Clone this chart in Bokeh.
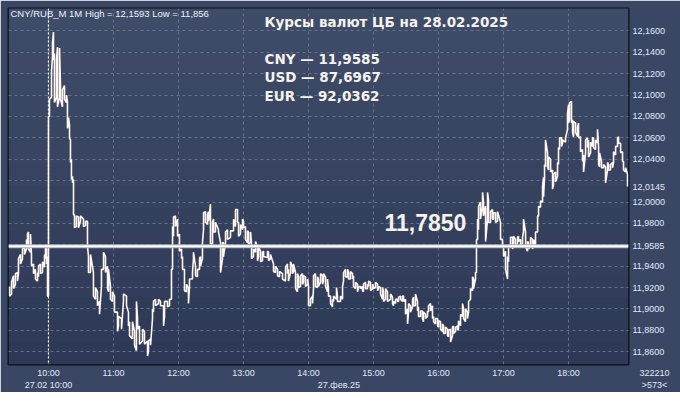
from bokeh.plotting import figure
from bokeh.models import Range1d, FixedTicker, Span, Label, BoxAnnotation
from bokeh.embed import file_html
from bokeh.resources import INLINE

# ---- data: minute bars of CNY/RUB on 27.02.2025 (minutes after 09:00) ----
bar_minute = [
    24.0, 25.9, 27.7, 29.5, 31.4, 32.3, 34.2, 36.0, 37.9, 39.7,
    40.6, 41.5, 43.4, 44.3, 46.2, 48.0, 49.9, 50.8, 52.6, 54.5,
    56.3, 57.2, 58.2, 59.1, 60.0, 60.9, 62.8, 63.7, 64.6, 65.5,
    67.4, 68.3, 70.2, 71.1, 72.9, 74.8, 76.6, 77.5, 78.5, 79.4,
    80.3, 81.2, 82.2, 83.1, 84.0, 85.8, 87.7, 89.5, 92.3, 94.2,
    96.0, 96.9, 98.8, 101.5, 103.4, 105.2, 107.1, 108.9, 110.8, 112.6,
    114.5, 115.4, 117.2, 119.1, 120.9, 123.7, 124.6, 127.4, 129.2, 132.0,
    133.8, 134.8, 137.5, 139.4, 141.2, 142.2, 144.0, 146.8, 148.6, 151.4,
    152.3, 154.2, 156.0, 156.9, 158.8, 161.5, 163.4, 166.2, 167.1, 169.8,
    171.7, 173.5, 174.5, 175.4, 177.2, 179.1, 180.9, 182.8, 183.7, 185.5,
    187.4, 189.2, 190.1, 192.9, 193.8, 195.7, 197.5, 199.4, 200.3, 202.1,
    203.1, 204.9, 206.8, 207.7, 209.5, 211.4, 212.3, 214.1, 216.9, 218.8,
    220.6, 221.5, 223.4, 225.2, 228.0, 230.8, 232.6, 234.5, 235.4, 237.2,
    239.1, 240.0, 241.8, 243.7, 244.6, 246.5, 247.4, 249.2, 251.1, 252.9,
    253.8, 255.7, 257.5, 258.5, 262.1, 263.1, 264.9, 267.7, 269.5, 271.4,
    273.2, 276.0, 278.8, 280.6, 281.5, 283.4, 285.2, 286.1, 288.0, 289.8,
    290.8, 292.6, 294.4, 295.4, 297.2, 299.1, 300.0, 301.8, 303.7, 304.6,
    306.4, 308.3, 309.2, 311.1, 312.9, 313.8, 315.7, 317.5, 318.4, 320.3,
    322.1, 323.1, 325.8, 326.7, 329.5, 331.4, 332.3, 334.1, 336.0, 336.9,
    338.7, 340.6, 341.5, 343.4, 345.2, 346.1, 348.0, 349.8, 350.7, 352.6,
    354.4, 355.4, 357.2, 359.1, 360.0, 361.8, 363.7, 364.6, 366.4, 368.3,
    369.2, 371.1, 372.9, 375.7, 377.5, 378.4, 380.3, 382.1, 383.1, 384.9,
    386.7, 387.7, 389.5, 391.4, 392.3, 394.1, 396.0, 396.9, 398.7, 400.6,
    401.5, 403.4, 405.2, 406.1, 408.0, 409.8, 410.7, 412.6, 414.4, 415.4,
    417.2, 419.1, 420.0, 421.8, 423.7, 424.6, 426.4, 428.3, 429.2, 431.1,
    432.9, 433.8, 435.7, 437.5, 438.4, 440.3, 442.1, 443.1, 444.9, 446.7,
    447.7, 449.5, 451.4, 452.3, 454.1, 455.0, 456.0, 456.9, 458.7, 460.6,
    461.5, 463.4, 465.2, 466.1, 468.0, 469.8, 470.7, 472.6, 474.4, 477.2,
    479.0, 480.0, 481.8, 483.7, 484.6, 486.4, 488.3, 489.2, 491.0, 492.9,
    493.8, 495.7, 497.5, 498.4, 500.3, 502.1, 503.0, 504.9, 506.7, 507.7,
    509.5, 511.4, 512.3, 514.1, 516.0, 516.9, 517.8, 518.7, 520.6, 521.5,
    523.4, 525.2, 526.1, 528.0, 529.8, 530.7, 531.7, 533.5, 534.4, 537.2,
    539.0, 540.0, 540.9, 542.7, 543.7, 544.6, 546.5, 548.3, 549.2, 551.0,
    552.9, 553.8, 555.7, 557.5, 558.4, 560.3, 562.1, 563.0, 564.9, 566.7,
    567.7, 568.6, 570.4, 572.3, 574.1, 576.0, 576.9, 578.7, 580.6, 581.5,
    583.4, 585.2, 586.1, 588.0, 589.8, 590.7, 592.6, 594.4,
]
bar_high = [
    11.921, 11.925, 11.931, 11.933, 11.934, 11.947, 11.951, 11.956, 11.959, 11.965,
    11.970, 11.972, 11.970, 11.951, 11.942, 11.937, 11.934, 11.940, 11.942, 11.944,
    11.951, 11.958, 11.956, 11.949, 12.080, 12.096, 12.122, 12.149, 12.159, 12.139,
    12.133, 12.145, 12.144, 12.108, 12.105, 12.109, 12.100, 12.094, 12.079, 12.072,
    12.058, 12.040, 12.024, 12.021, 11.988, 11.987, 11.986, 11.987, 11.984, 11.982,
    11.982, 11.949, 11.951, 11.934, 11.920, 11.916, 11.907, 11.937, 11.953, 11.949,
    11.940, 11.937, 11.921, 11.916, 11.912, 11.897, 11.893, 11.891, 11.914, 11.912,
    11.897, 11.888, 11.888, 11.879, 11.907, 11.891, 11.884, 11.881, 11.879, 11.870,
    11.870, 11.872, 11.900, 11.907, 11.909, 11.909, 11.907, 11.903, 11.907, 11.907,
    11.909, 11.937, 11.977, 11.986, 11.987, 11.984, 11.970, 11.956, 11.949, 11.937,
    11.923, 11.919, 11.928, 11.934, 11.953, 11.940, 11.937, 11.947, 11.949, 11.962,
    11.990, 11.991, 11.988, 11.991, 11.998, 11.981, 11.984, 11.981, 11.974, 11.962,
    11.962, 11.962, 11.972, 11.974, 11.973, 11.984, 11.993, 11.993, 11.981, 11.979,
    11.984, 11.982, 11.977, 11.973, 11.972, 11.972, 11.961, 11.956, 11.963, 11.958,
    11.958, 11.954, 11.953, 11.954, 11.954, 11.953, 11.951, 11.942, 11.940, 11.937,
    11.935, 11.933, 11.939, 11.942, 11.937, 11.944, 11.939, 11.942, 11.934, 11.933,
    11.930, 11.931, 11.933, 11.931, 11.930, 11.928, 11.921, 11.909, 11.912, 11.931,
    11.933, 11.930, 11.928, 11.933, 11.931, 11.933, 11.930, 11.928, 11.919, 11.912,
    11.909, 11.912, 11.920, 11.912, 11.912, 11.921, 11.934, 11.937, 11.937, 11.934,
    11.935, 11.933, 11.931, 11.925, 11.923, 11.921, 11.921, 11.921, 11.923, 11.925,
    11.923, 11.926, 11.925, 11.923, 11.921, 11.925, 11.923, 11.921, 11.920, 11.920,
    11.916, 11.919, 11.916, 11.914, 11.911, 11.907, 11.909, 11.909, 11.911, 11.912,
    11.912, 11.912, 11.909, 11.900, 11.905, 11.903, 11.909, 11.911, 11.914, 11.907,
    11.902, 11.898, 11.898, 11.897, 11.895, 11.898, 11.903, 11.905, 11.903, 11.893,
    11.891, 11.891, 11.889, 11.888, 11.886, 11.884, 11.883, 11.881, 11.880, 11.881,
    11.883, 11.884, 11.883, 11.884, 11.889, 11.895, 11.905, 11.900, 11.900, 11.897,
    11.907, 11.919, 11.930, 11.928, 11.934, 11.965, 11.984, 11.996, 12.000, 12.009,
    12.000, 11.996, 12.009, 12.002, 11.991, 11.993, 11.990, 11.990, 11.991, 11.981,
    11.965, 11.959, 11.954, 11.949, 11.959, 11.967, 11.967, 11.968, 11.965, 11.967,
    11.968, 11.965, 11.967, 11.984, 11.972, 11.963, 11.962, 11.967, 11.965, 11.965,
    11.972, 11.987, 11.996, 12.001, 12.015, 12.023, 12.035, 12.058, 12.046, 12.042,
    12.040, 12.030, 12.026, 12.028, 12.037, 12.051, 12.060, 12.060, 12.058, 12.060,
    12.083, 12.091, 12.093, 12.094, 12.077, 12.075, 12.074, 12.070, 12.074, 12.061,
    12.049, 12.044, 12.058, 12.060, 12.058, 12.056, 12.060, 12.060, 12.058, 12.068,
    12.051, 12.046, 12.038, 12.035, 12.033, 12.037, 12.035, 12.035, 12.037, 12.047,
    12.052, 12.060, 12.061, 12.055, 12.047, 12.038, 12.032, 12.026,
]
bar_low = [
    11.912, 11.914, 11.919, 11.923, 11.926, 11.933, 11.942, 11.947, 11.951, 11.956,
    11.961, 11.956, 11.953, 11.940, 11.933, 11.928, 11.926, 11.930, 11.933, 11.934,
    11.939, 11.947, 11.942, 11.912, 11.912, 12.080, 12.098, 12.136, 12.133, 12.093,
    12.098, 12.089, 12.098, 12.096, 12.089, 12.096, 12.093, 12.069, 12.072, 12.060,
    12.037, 12.021, 12.018, 11.988, 11.976, 11.977, 11.976, 11.982, 11.977, 11.978,
    11.959, 11.934, 11.934, 11.912, 11.909, 11.903, 11.895, 11.921, 11.937, 11.934,
    11.919, 11.916, 11.909, 11.907, 11.897, 11.879, 11.884, 11.881, 11.907, 11.903,
    11.884, 11.875, 11.872, 11.866, 11.861, 11.881, 11.867, 11.870, 11.867, 11.856,
    11.860, 11.866, 11.891, 11.897, 11.903, 11.905, 11.903, 11.884, 11.893, 11.902,
    11.903, 11.909, 11.937, 11.968, 11.977, 11.968, 11.954, 11.947, 11.937, 11.917,
    11.916, 11.905, 11.920, 11.928, 11.947, 11.931, 11.930, 11.937, 11.940, 11.947,
    11.974, 11.981, 11.979, 11.982, 11.961, 11.961, 11.972, 11.972, 11.972, 11.934,
    11.947, 11.949, 11.962, 11.965, 11.967, 11.973, 11.977, 11.981, 11.968, 11.970,
    11.974, 11.976, 11.965, 11.962, 11.961, 11.962, 11.947, 11.949, 11.953, 11.945,
    11.949, 11.944, 11.945, 11.949, 11.948, 11.945, 11.947, 11.935, 11.934, 11.931,
    11.930, 11.928, 11.926, 11.933, 11.926, 11.934, 11.933, 11.935, 11.919, 11.916,
    11.920, 11.921, 11.923, 11.925, 11.921, 11.923, 11.903, 11.903, 11.905, 11.919,
    11.921, 11.920, 11.921, 11.925, 11.923, 11.926, 11.921, 11.916, 11.912, 11.905,
    11.902, 11.907, 11.909, 11.907, 11.907, 11.909, 11.926, 11.930, 11.930, 11.928,
    11.928, 11.928, 11.921, 11.919, 11.916, 11.919, 11.919, 11.917, 11.916, 11.919,
    11.919, 11.921, 11.917, 11.919, 11.919, 11.920, 11.917, 11.919, 11.914, 11.909,
    11.907, 11.909, 11.907, 11.909, 11.905, 11.903, 11.905, 11.907, 11.907, 11.909,
    11.907, 11.907, 11.895, 11.886, 11.897, 11.897, 11.902, 11.903, 11.903, 11.898,
    11.893, 11.893, 11.891, 11.888, 11.891, 11.893, 11.897, 11.898, 11.891, 11.888,
    11.886, 11.884, 11.883, 11.881, 11.879, 11.877, 11.877, 11.875, 11.874, 11.869,
    11.875, 11.877, 11.879, 11.880, 11.881, 11.884, 11.893, 11.891, 11.888, 11.891,
    11.897, 11.909, 11.917, 11.919, 11.928, 11.934, 11.965, 11.974, 11.984, 11.996,
    11.987, 11.963, 11.984, 11.981, 11.981, 11.984, 11.984, 11.981, 11.982, 11.965,
    11.959, 11.949, 11.937, 11.928, 11.944, 11.959, 11.956, 11.961, 11.959, 11.961,
    11.963, 11.958, 11.961, 11.972, 11.958, 11.954, 11.956, 11.959, 11.956, 11.959,
    11.959, 11.972, 11.987, 11.995, 12.000, 12.005, 12.023, 12.033, 12.033, 12.030,
    12.028, 12.012, 12.016, 12.019, 12.024, 12.035, 12.049, 12.052, 12.055, 12.056,
    12.068, 12.074, 12.077, 12.074, 12.065, 12.061, 12.065, 12.061, 12.060, 12.047,
    12.038, 12.028, 12.046, 12.051, 12.042, 12.046, 12.052, 12.051, 12.049, 12.055,
    12.035, 12.033, 12.032, 12.032, 12.018, 12.030, 12.030, 12.030, 12.032, 12.037,
    12.044, 12.052, 12.055, 12.046, 12.038, 12.030, 12.028, 12.0145,
]
assert len(bar_minute) == len(bar_high) == len(bar_low)

x_ticks = [60, 120, 180, 240, 300, 360, 420, 480, 540]
x_tick_labels = ["10:00", "11:00", "12:00", "13:00", "14:00", "15:00", "16:00", "17:00", "18:00"]
y_ticks = [11.86, 11.88, 11.90, 11.92, 11.94, 11.96, 11.98, 12.00,
           12.02, 12.04, 12.06, 12.08, 12.10, 12.12, 12.14, 12.16]
y_tick_labels = ["11,8600", "11,8800", "11,9000", "11,9200", "11,9400", "11,9600", "11,9800", "12,0000",
                 "12,0200", "12,0400", "12,0600", "12,0800", "12,1000", "12,1200", "12,1400", "12,1600"]
# labels hidden behind the price markers in the original
y_hidden = [11.96, 12.02]

info_text = "CNY/RUB_M 1M High = 12,1593 Low = 11,856"
title_text = "Курсы валют ЦБ на 28.02.2025"
rate_lines = ["CNY — 11,9585", "USD — 87,6967", "EUR — 92,0362"]
cb_rate = 11.9585
cb_rate_label = "11,9585"
last_price = 12.0145
last_price_label = "12,0145"
big_value = "11,7850"
cursor_minute = 60
cursor_label = "27.02 10:00"
date_label = "27.фев.25"
date_label_minute = 328
volume_label = "322210"
bars_label = ">573<"
corner_minute = 595

# ---- zig-zag path through each minute's high/low ----
xs, ys = [], []
prev = None
for t, h, l in zip(bar_minute, bar_high, bar_low):
    if prev is None or abs(prev - h) < abs(prev - l):
        seq = (h, l)
    else:
        seq = (l, h)
    xs += [t, t]
    ys += list(seq)
    prev = seq[1]

FONT = "Liberation Sans"
BOLD_FONT = "DejaVu Sans"
TICK_COLOR = "#e2e9f6"
NBSP = "\u00a0"

p = figure(width=680, height=392, output_backend="svg", toolbar_location=None,
           x_range=Range1d(23.1, 595.3), y_range=Range1d(11.848, 12.181),
           y_axis_location="right",
           min_border_left=8, min_border_top=8, min_border_right=52, min_border_bottom=26,
           background_fill_color="#37445f", border_fill_color="#3a4764",
           outline_line_color="#0b0e13", outline_line_width=2)

# vertical background gradient of the chart area
top_c = (63, 76, 104)
bot_c = (45, 57, 86)
bands = 16
fh = 358.0
for i in range(bands):
    f = i / (bands - 1)
    c = tuple(int(round(bot_c[k] + (top_c[k] - bot_c[k]) * f)) for k in range(3))
    p.add_layout(BoxAnnotation(bottom=i * fh / bands, top=(i + 1) * fh / bands + 1,
                               bottom_units="screen", top_units="screen",
                               fill_color="#%02x%02x%02x" % c, fill_alpha=1.0,
                               line_alpha=0, level="image"))


def style_axis(ax, standoff):
    ax.axis_line_color = None
    ax.major_tick_line_color = None
    ax.minor_tick_line_color = None
    ax.major_tick_out = 0
    ax.major_tick_in = 0
    ax.minor_tick_out = 0
    ax.minor_tick_in = 0
    ax.major_label_text_color = TICK_COLOR
    ax.major_label_text_font = FONT
    ax.major_label_text_font_size = "9px"
    ax.major_label_standoff = standoff


# time axis: hours, with the date / cursor row and the corner counters below
x_labels = dict(zip(x_ticks, x_tick_labels))
x_labels[cursor_minute] = x_labels[cursor_minute] + "\n" + cursor_label
x_labels[date_label_minute] = NBSP + "\n" + date_label
x_labels[corner_minute] = NBSP * 21 + volume_label + "\n" + NBSP * 21 + bars_label
xa = p.xaxis[0]
xa.ticker = FixedTicker(ticks=sorted(x_labels))
xa.major_label_overrides = x_labels
style_axis(xa, 3)

# price axis, with the last price and the CB rate markers
y_labels = {t: l for t, l in zip(y_ticks, y_tick_labels) if t not in y_hidden}
y_labels[last_price] = last_price_label
y_labels[cb_rate] = cb_rate_label
ya = p.yaxis[0]
ya.ticker = FixedTicker(ticks=sorted(y_labels))
ya.major_label_overrides = y_labels
style_axis(ya, 4)

p.xgrid.ticker = FixedTicker(ticks=x_ticks)
p.ygrid.ticker = FixedTicker(ticks=y_ticks)
for g in (p.xgrid[0], p.ygrid[0]):
    g.grid_line_color = "#64728d"
    g.grid_line_dash = "3 3"
    g.grid_line_width = 1

p.line(xs, ys, line_color="#fff6ef", line_width=1.6)

p.add_layout(Span(location=cursor_minute, dimension="height", line_color="#ffffff",
                  line_dash="2 2", line_width=1.2))
p.add_layout(Span(location=cb_rate, dimension="width", line_color="#a9adb6", line_width=4))
p.add_layout(Span(location=cb_rate, dimension="width", line_color="#ffffff", line_width=2))

TXT = "#f6f3ee"
p.add_layout(Label(x=2, y=351, x_units="screen", y_units="screen", text=info_text,
                   text_font=FONT, text_font_size="9.5px", text_color="#eef2fa",
                   text_baseline="middle"))
p.add_layout(Label(x=256, y=343, x_units="screen", y_units="screen", text=title_text,
                   text_font=BOLD_FONT, text_font_size="13.5px", text_font_style="bold",
                   text_color=TXT, text_baseline="middle"))
for i, t in enumerate(rate_lines):
    p.add_layout(Label(x=256, y=306 - i * 18.5, x_units="screen", y_units="screen", text=t,
                       text_font=BOLD_FONT, text_font_size="13.5px", text_font_style="bold",
                       text_color=TXT, text_baseline="middle"))
p.add_layout(Label(x=376, y=142, x_units="screen", y_units="screen", text=big_value,
                   text_font=FONT, text_font_size="23px", text_font_style="bold",
                   text_color=TXT, text_baseline="middle"))

html = file_html(p, INLINE)
html = html.replace("<body>", '<body style="background-color:#c3cdda;">', 1)
open("out.html", "w").write(html)
